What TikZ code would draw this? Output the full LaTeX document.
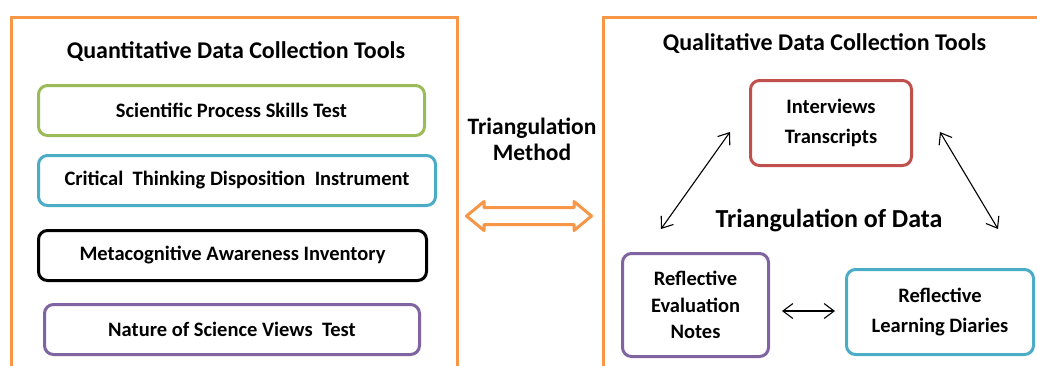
\documentclass[tikz,border=0pt]{standalone}
\usepackage{fontspec}
\setmainfont{Carlito}
\usetikzlibrary{arrows.meta}
\definecolor{orng}{HTML}{F79646}
\definecolor{grn}{HTML}{9BBB59}
\definecolor{blu}{HTML}{4BACC6}
\definecolor{redc}{HTML}{C0504D}
\definecolor{purp}{HTML}{8064A2}
\tikzset{
  tool/.style={draw=#1, line width=3pt, rounded corners=9pt, fill=white, align=center,
    font=\fontsize{20.5}{30}\selectfont\bfseries, inner sep=0pt},
  ttl/.style={font=\fontsize{24}{28}\selectfont\bfseries, anchor=base},
  frame/.style={draw=orng, line width=3pt},
  link/.style={draw=black, line width=1.1pt, {Straight Barb[length=10pt,width=15pt]}-{Straight Barb[length=10pt,width=15pt]}},
}
\begin{document}
\begin{tikzpicture}[x=1pt,y=-1pt]
\useasboundingbox (0,0) rectangle (1037,365);
\clip (0,0) rectangle (1037,365);
\fill[white] (0,0) rectangle (1037,365);
% frames
\draw[frame] (11.5,380) -- (11.5,17.5) -- (457.5,17.5) -- (457.5,380);
\draw[frame] (603.5,380) -- (603.5,17.5) -- (1050,17.5);
% left side
\node[ttl] (qt) at (236,58) {Quantitative Data Collection Tools};
\node[tool=grn, minimum width=386pt, minimum height=50pt] (b1) at (231.5,110.5) {Scientific Process Skills Test};
\node[tool=blu, minimum width=397pt, minimum height=50pt] (b2) at (237,180.5) {Critical\ \ Thinking Disposition\ \ Instrument};
\node[tool=black, minimum width=388pt, minimum height=50pt] (b3) at (232.5,255.5) {Metacognitive Awareness Inventory};
\node[tool=purp, minimum width=375pt, minimum height=50pt] (b4) at (232,329.5) {Nature of Science Views\ \ Test};
% middle
\node[font=\fontsize{23.5}{26}\selectfont\bfseries, align=center, anchor=base] (tm) at (532,160) {Triangulation\\Method};
\draw[draw=orng, line width=3pt, fill=white, line join=round]
  (466.5,216) -- (484,201.5) -- (484,207.5) -- (574,207.5) -- (574,201.5) -- (591.5,216)
  -- (574,230.5) -- (574,224.5) -- (484,224.5) -- (484,230.5) -- cycle;
% right side
\node[ttl] (ql) at (824.5,50) {Qualitative Data Collection Tools};
\node[tool=redc, minimum width=161pt, minimum height=85pt] (iv) at (831,123) {Interviews\\Transcripts};
\node[tool=purp, minimum width=146pt, minimum height=103pt, font=\fontsize{20.5}{26.5}\selectfont\bfseries] (ev) at (695.5,305) {Reflective\\Evaluation\\Notes};
\node[tool=blu, minimum width=187pt, minimum height=85pt] (ld) at (940,312) {Reflective\\Learning Diaries};
\node[font=\fontsize{26}{30}\selectfont\bfseries, anchor=base] (td) at (829,227) {Triangulation of Data};
% links
\coordinate (a1s) at (730,132);
\coordinate (a1e) at (661,229);
\coordinate (a2s) at (940,132);
\coordinate (a2e) at (998,229);
\coordinate (a3s) at (782,311);
\coordinate (a3e) at (835,311);
\draw[link] (a1s) -- (a1e);
\draw[link] (a2s) -- (a2e);
\draw[link] (a3s) -- (a3e);
\end{tikzpicture}
\end{document}
